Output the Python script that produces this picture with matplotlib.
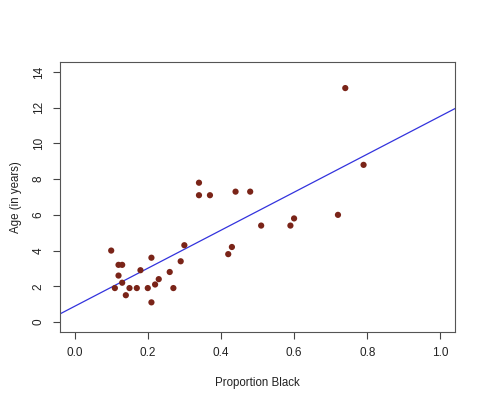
import matplotlib.pyplot as plt
import numpy as np

plt.rcParams['font.family'] = ['Liberation Sans', 'DejaVu Sans']

# Data
prop_black = [0.10, 0.11, 0.12, 0.13, 0.12, 0.13, 0.14, 0.15, 0.17, 0.18,
              0.20, 0.21, 0.21, 0.22, 0.23, 0.26, 0.27, 0.29, 0.30, 0.34,
              0.34, 0.37, 0.42, 0.43, 0.44, 0.48, 0.51, 0.59, 0.60, 0.72,
              0.74, 0.79]
age = [4.0, 1.9, 3.2, 3.2, 2.6, 2.2, 1.5, 1.9, 1.9, 2.9,
       1.9, 3.6, 1.1, 2.1, 2.4, 2.8, 1.9, 3.4, 4.3, 7.8,
       7.1, 7.1, 3.8, 4.2, 7.3, 7.3, 5.4, 5.4, 5.8, 6.0,
       13.1, 8.8]

x = np.array(prop_black)
y = np.array(age)
slope, intercept = np.polyfit(x, y, 1)

fig = plt.figure(figsize=(4.79, 4.00), dpi=100)
ax = fig.add_axes([60 / 479, 68 / 400, 395 / 479, 270 / 400])

ax.scatter(x, y, s=20, color='#7a2418', edgecolors='none', zorder=3)

xlim = (-0.04, 1.04)
ax.set_xlim(*xlim)
ax.set_ylim(-0.56, 14.56)
xx = np.array(xlim)
ax.plot(xx, intercept + slope * xx, color='#3333dd', lw=0.9, zorder=2)

ax.set_xticks([0.0, 0.2, 0.4, 0.6, 0.8, 1.0])
ax.set_xticklabels(['0.0', '0.2', '0.4', '0.6', '0.8', '1.0'])
ax.set_yticks(range(0, 15, 2))
ax.set_yticklabels([str(v) for v in range(0, 15, 2)], rotation=90, va='center')

ax.tick_params(direction='out', length=5, width=0.8, color='#444444',
               labelsize=8.5, pad=6, labelcolor='#222222')
for sp in ax.spines.values():
    sp.set_color('#555555')
    sp.set_linewidth(0.8)

ax.set_xlabel('Proportion Black', fontsize=8.3, labelpad=13, color='#222222')
ax.set_ylabel('Age (in years)', fontsize=8.3, labelpad=8, color='#222222')

fig.savefig('out.png', dpi=100)
